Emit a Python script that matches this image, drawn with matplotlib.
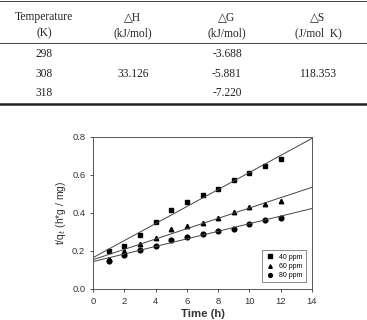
import numpy as np
import matplotlib
matplotlib.use('Agg')
from matplotlib import pyplot as plt
from matplotlib.lines import Line2D

# table values
temps = ['298', '308', '318']
dH = '33.126'
dG = ['-3.688', '-5.881', '-7.220']
dS = '118.353'

# kinetics data, t/qt vs time
time = [1, 2, 3, 4, 5, 6, 7, 8, 9, 10, 11, 12]
ppm40 = [0.200, 0.228, 0.286, 0.353, 0.416, 0.460, 0.493, 0.528, 0.572, 0.609, 0.649, 0.683]
ppm60 = [0.160, 0.200, 0.235, 0.268, 0.316, 0.330, 0.347, 0.374, 0.404, 0.430, 0.446, 0.463]
ppm80 = [0.149, 0.180, 0.207, 0.228, 0.258, 0.272, 0.288, 0.304, 0.317, 0.344, 0.365, 0.375]

W, H = 367, 320
fig = plt.figure(figsize=(W/100, H/100), dpi=100)

def fx(px):
    return px / W

def fy(py):
    return 1 - py / H

# ---- table ----
serif = 'Liberation Serif'
tfs = 8.3
for y, lw in [(1, 0.6), (43, 0.6), (104, 1.8)]:
    fig.add_artist(Line2D([0, 1], [fy(y), fy(y)], color='#222222', lw=lw))

cols = [44, 133, 227, 318]
heads = [('Temperature', '(K)'), ('\u25b3H', '(kJ/mol)'), ('\u25b3G', '(kJ/mol)'), ('\u25b3S', '(J/mol  K)')]
for cx, (h1, h2) in zip(cols, heads):
    fig.text(fx(cx), fy(17), h1, ha='center', va='center', fontsize=tfs, family=[serif, 'DejaVu Sans'], color='#222222')
    fig.text(fx(cx), fy(33), h2, ha='center', va='center', fontsize=tfs, family=serif, color='#222222')

rows_y = [54, 74, 93]
for i in range(3):
    fig.text(fx(cols[0]), fy(rows_y[i]), temps[i], ha='center', va='center', fontsize=tfs, family=serif, color='#222222')
    fig.text(fx(cols[2]), fy(rows_y[i]), dG[i], ha='center', va='center', fontsize=tfs, family=serif, color='#222222')
fig.text(fx(cols[1]), fy(rows_y[1]), dH, ha='center', va='center', fontsize=tfs, family=serif, color='#222222')
fig.text(fx(cols[3]), fy(rows_y[1]), dS, ha='center', va='center', fontsize=tfs, family=serif, color='#222222')

# ---- chart ----
plt.rcParams['font.family'] = 'Liberation Sans'
ax = fig.add_axes([fx(93), fy(289), fx(312 - 93), (289 - 137) / H])

t = np.array(time)
xx = np.array([0, 14])
for ys, mk, ms, lab in [(ppm40, 's', 3.2, '40 ppm'), (ppm60, '^', 3.2, '60 ppm'), (ppm80, 'o', 3.4, '80 ppm')]:
    ax.plot(time, ys, mk, color='black', ms=ms, label=lab)
    k, b = np.polyfit(t, ys, 1)
    ax.plot(xx, k * xx + b, color='#444444', lw=0.7)

ax.set_xlim(0, 14)
ax.set_ylim(0, 0.8)
ax.set_xticks(range(0, 15, 2))
ax.set_yticks([0.0, 0.2, 0.4, 0.6, 0.8])
ax.set_yticklabels(['0.0', '0.2', '0.4', '0.6', '0.8'])
ax.tick_params(labelsize=6.8, length=2, width=0.6, colors='#333333')
for s in ax.spines.values():
    s.set_linewidth(0.7)
    s.set_color('#555555')
ax.set_xlabel('Time (h)', fontsize=8.2, fontweight='bold', color='#333333', labelpad=2.5)
ax.set_ylabel('t/q$_t$ (h*g / mg)', fontsize=7.5, color='#333333', labelpad=3)

handles = ax.get_lines()[0::2]
leg = ax.legend(handles, ['40 ppm', '60 ppm', '80 ppm'], loc='lower right', fontsize=5,
                frameon=True, fancybox=False, edgecolor='#555555', handlelength=1.2,
                handletextpad=0.8, borderpad=0.5, labelspacing=0.3, markerscale=0.8,
                bbox_to_anchor=(0.99, 0.02))
leg.get_frame().set_linewidth(0.6)

fig.savefig('out.png', dpi=100)
